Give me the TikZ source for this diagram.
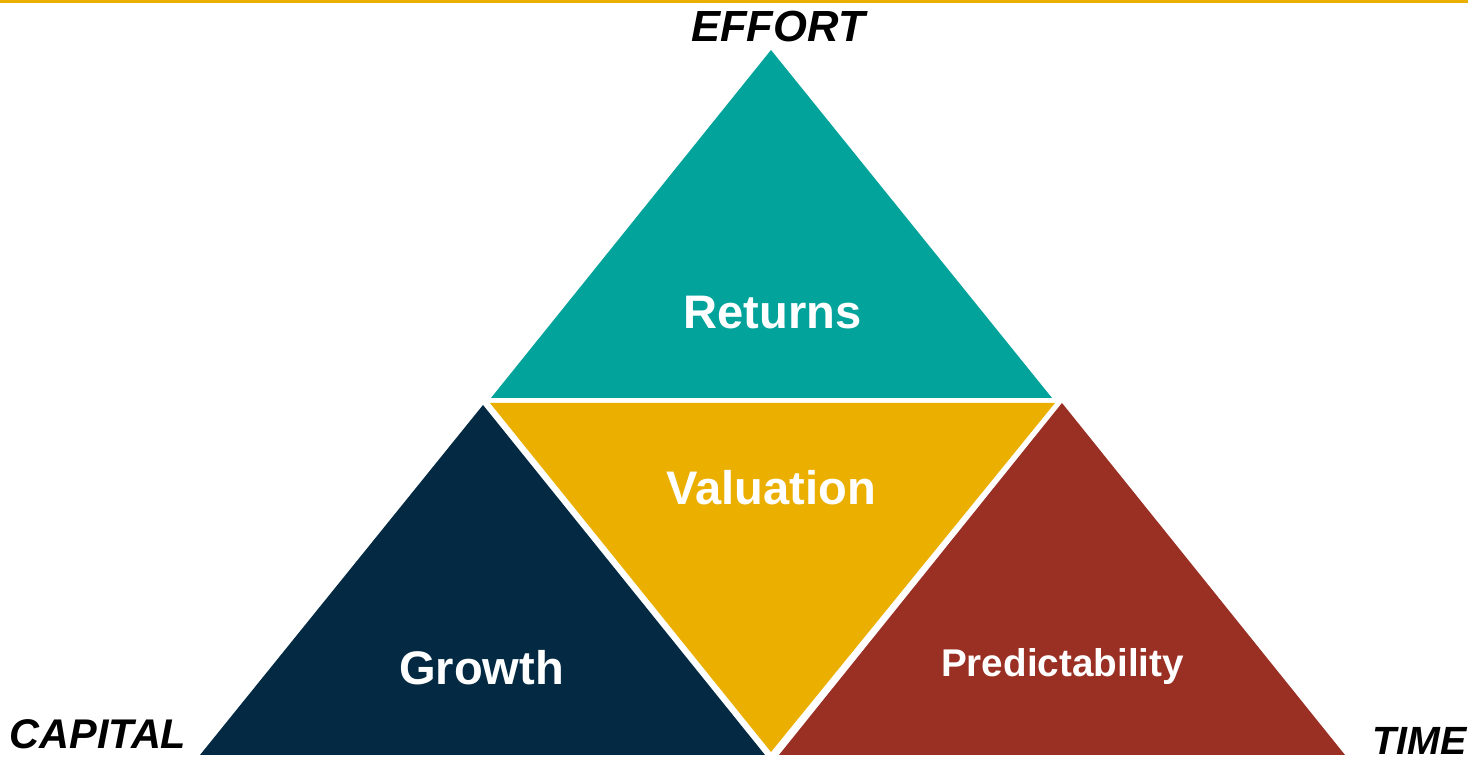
\documentclass[tikz,border=0pt]{standalone}
\usepackage{fontspec}
\setmainfont{Liberation Sans}
\definecolor{retteal}{HTML}{02A39B}
\definecolor{valgold}{HTML}{EBAF00}
\definecolor{grownavy}{HTML}{032A42}
\definecolor{predred}{HTML}{9A3024}
\tikzset{
  corner/.style={anchor=base,inner sep=0,font=\fontsize{11.2}{13}\selectfont\bfseries\itshape},
  part/.style={anchor=base,inner sep=0,text=white,font=\fontsize{13.4}{16}\selectfont\bfseries}
}
\begin{document}
\begin{tikzpicture}
\useasboundingbox (0,0) rectangle (14.68,7.63);
% rule along the top edge
\fill[valgold] (0,7.60) rectangle (14.68,7.63);
% the four triangles
\coordinate (rtop) at (7.71,7.13); \coordinate (rl) at (4.91,3.65); \coordinate (rr) at (10.52,3.65);
\fill[retteal] (rtop) -- (rl) -- (rr) -- cycle;
\coordinate (vl) at (4.90,3.60); \coordinate (vr) at (10.55,3.60); \coordinate (vbot) at (7.71,0.11);
\fill[valgold] (vl) -- (vr) -- (vbot) -- cycle;
\coordinate (gtop) at (4.83,3.58); \coordinate (gl) at (2.00,0.08); \coordinate (gr) at (7.65,0.08);
\fill[grownavy] (gtop) -- (gl) -- (gr) -- cycle;
\coordinate (ptop) at (10.62,3.60); \coordinate (pl) at (7.79,0.08); \coordinate (pr) at (13.45,0.08);
\fill[predred] (ptop) -- (pl) -- (pr) -- cycle;
% labels inside
\node[part] (returns) at (7.725,4.34) {Returns};
\node[part] (valuation) at (7.715,2.58) {Valuation};
\node[part] (growth) at (4.815,0.78) {Growth};
\node[part,font=\fontsize{11}{13}\selectfont\bfseries] (predict) at (10.625,0.86) {Predictability};
% corner labels
\node[corner,font=\fontsize{12.4}{14}\selectfont\bfseries\itshape] (effort) at (7.78,7.21) {EFFORT};
\node[corner,font=\fontsize{11.8}{14}\selectfont\bfseries\itshape] (capital) at (0.98,0.14) {CAPITAL};
\node[corner,anchor=base east] (time) at (14.67,0.08) {TIME};
\end{tikzpicture}
\end{document}
